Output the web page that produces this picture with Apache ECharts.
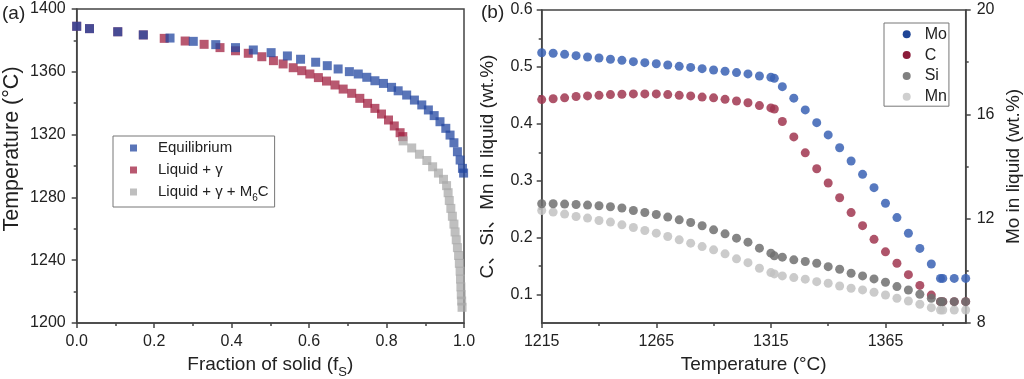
<!DOCTYPE html>
<html><head><meta charset="utf-8">
<script src="https://cdn.jsdelivr.net/npm/echarts@6/dist/echarts.min.js"></script>
<style>html,body{margin:0;padding:0;background:#fff}#c{width:1024px;height:379px}</style>
</head><body><div id="c"></div>
<script>
// ---------- Panel (a): temperature vs fraction of solid ----------
const fsEquilibrium = [0, 0.033, 0.106, 0.172, 0.241, 0.301, 0.359, 0.410, 0.456, 0.502, 0.544, 0.578, 0.617, 0.647, 0.675, 0.704, 0.727, 0.749, 0.770, 0.792, 0.813, 0.830, 0.852, 0.872, 0.891, 0.908, 0.923, 0.938, 0.953, 0.964, 0.974, 0.983, 0.990, 0.996, 0.999];
const tEquilibrium  = [1389, 1387.5, 1385.5, 1383.5, 1381.5, 1379.4, 1377.3, 1375.4, 1373.9, 1372.2, 1370.1, 1368, 1366.1, 1363.9, 1361.8, 1360.1, 1358.6, 1356.5, 1354.3, 1352.6, 1350.1, 1347.9, 1345.2, 1342, 1338.9, 1335.7, 1332.1, 1328.2, 1324, 1319.7, 1314.8, 1309.1, 1303.8, 1298.5, 1295.5];

const fsLiquidGamma = [0, 0.033, 0.106, 0.172, 0.226, 0.28, 0.329, 0.37, 0.41, 0.443, 0.478, 0.508, 0.533, 0.559, 0.581, 0.602, 0.624, 0.645, 0.667, 0.688, 0.71, 0.731, 0.751, 0.770, 0.787, 0.805, 0.820, 0.835, 0.842];
const tLiquidGamma  = [1389, 1387.5, 1385.5, 1383.5, 1381.3, 1379.6, 1377.5, 1375.4, 1373.4, 1371.8, 1369.6, 1367.1, 1365, 1362.6, 1360.7, 1358.6, 1356.3, 1354.1, 1351.6, 1349, 1346.3, 1343.1, 1339.9, 1336.7, 1333.1, 1329.3, 1325.5, 1321.2, 1318.7];

const fsLiquidGammaM6C = [0.843, 0.865, 0.885, 0.904, 0.919, 0.934, 0.947, 0.955, 0.959, 0.962, 0.966, 0.970, 0.974, 0.977, 0.980, 0.983, 0.986, 0.988, 0.990, 0.991, 0.992, 0.993, 0.994, 0.995];
const tLiquidGammaM6C  = [1316, 1311.5, 1307.5, 1303.5, 1299.5, 1295.5, 1291.5, 1287.5, 1283, 1278, 1273, 1268, 1263, 1258, 1253, 1248, 1243, 1238, 1233, 1228, 1223, 1218, 1214, 1210];

const xTicksA = [0, 0.2, 0.4, 0.6, 0.8, 1.0];
const yTicksA = [1200, 1240, 1280, 1320, 1360, 1400];

// ---------- Panel (b): liquid composition vs temperature ----------
const tempB = [1215, 1220, 1225, 1230, 1235, 1240, 1245, 1250, 1255, 1260, 1265, 1270, 1275, 1280, 1285, 1290, 1295, 1300, 1305, 1310, 1315, 1316.5, 1320, 1325, 1330, 1335, 1340, 1345, 1350, 1355, 1360, 1365, 1370, 1375, 1380, 1385, 1389, 1390, 1395, 1400];
const moLiquid = [18.36, 18.34, 18.30, 18.25, 18.20, 18.16, 18.11, 18.07, 18.02, 17.98, 17.94, 17.89, 17.84, 17.80, 17.75, 17.70, 17.65, 17.60, 17.55, 17.47, 17.42, 17.38, 17.06, 16.62, 16.17, 15.68, 15.21, 14.72, 14.21, 13.70, 13.19, 12.59, 12.04, 11.44, 10.86, 10.26, 9.71, 9.71, 9.71, 9.71];
const cLiquid  = [0.4426, 0.444, 0.4456, 0.448, 0.449, 0.450, 0.4514, 0.452, 0.4526, 0.4526, 0.4526, 0.4514, 0.450, 0.449, 0.447, 0.4456, 0.443, 0.440, 0.437, 0.432, 0.428, 0.426, 0.404, 0.377, 0.349, 0.321, 0.296, 0.270, 0.244, 0.221, 0.197, 0.175, 0.155, 0.135, 0.116, 0.099, 0.0875, 0.0875, 0.0875, 0.0875];
const siLiquid = [0.2595, 0.2595, 0.259, 0.2583, 0.2572, 0.256, 0.2542, 0.252, 0.2477, 0.2442, 0.2407, 0.2361, 0.2313, 0.2266, 0.2208, 0.2137, 0.2067, 0.1991, 0.192, 0.1815, 0.1727, 0.168, 0.1657, 0.161, 0.158, 0.155, 0.149, 0.1445, 0.1375, 0.1327, 0.1275, 0.1217, 0.114, 0.108, 0.1005, 0.0935, 0.0875, 0.0875, 0.0875, 0.0875];
const mnLiquid = [0.2477, 0.2449, 0.2414, 0.2372, 0.2343, 0.2301, 0.2273, 0.2225, 0.2178, 0.2125, 0.2079, 0.2019, 0.1961, 0.1903, 0.1843, 0.1785, 0.1715, 0.1627, 0.156, 0.1463, 0.1386, 0.1363, 0.1327, 0.1298, 0.127, 0.1227, 0.1199, 0.1151, 0.111, 0.1081, 0.104, 0.0993, 0.0935, 0.0887, 0.0829, 0.0769, 0.0729, 0.0729, 0.0729, 0.0729];

const xTicksB = [1215, 1265, 1315, 1365];
const xMinorB = [1240, 1290, 1340, 1390];
const yLeftTicksB = [0.1, 0.2, 0.3, 0.4, 0.5, 0.6];
const yLeftMinorB = [0.15, 0.25, 0.35, 0.45, 0.55];
const yRightTicksB = [8, 12, 16, 20];

const zip = (xs, ys) => xs.map((x, i) => [x, ys[i]]);

const FONT = "'Liberation Sans', Arial, 'Noto Sans CJK SC', sans-serif";
const AX = '#444';
const lineStyle = { color: AX, width: 1.5 };
const tickLabel = { color: '#222', fontSize: 16, fontFamily: FONT };
const nameStyle = { color: '#222', fontSize: 19, fontFamily: FONT };
const plain = v => String(v);

const chart = echarts.init(document.getElementById('c'), null, { renderer: 'canvas' });

const option = {
  backgroundColor: '#fff',
  animation: false,
  textStyle: { fontFamily: FONT },
  grid: [
    { left: 76.7, top: 9, width: 387.3, height: 314, show: true, borderColor: AX, borderWidth: 1.5, backgroundColor: 'transparent', outerBoundsMode: 'none' },
    { left: 541.7, top: 10, width: 424, height: 313, show: true, borderColor: AX, borderWidth: 1.5, backgroundColor: 'transparent', outerBoundsMode: 'none' }
  ],
  graphic: [
    { type: 'text', left: 2, top: 4, style: { text: '(a)', fontSize: 19, fontFamily: FONT, fill: '#222' } },
    { type: 'text', left: 481, top: 3, style: { text: '(b)', fontSize: 19, fontFamily: FONT, fill: '#222' } }
  ],
  legend: [
    {
      orient: 'vertical', left: 113, top: 136,
      data: ['Equilibrium', 'Liquid + γ', 'Liquid + γ + M6C'],
      icon: 'rect', itemWidth: 7, itemHeight: 7, itemGap: 6,
      padding: [4, 6, 4, 17],
      borderColor: '#777', borderWidth: 1,
      selectedMode: false,
      formatter: n => n === 'Liquid + γ + M6C' ? '{t|Liquid + γ + M}{s|6}{t|C}' : '{t|' + n + '}',
      textStyle: {
        padding: [0, 0, 0, 16], lineHeight: 16, color: '#222', fontFamily: FONT, fontSize: 15,
        rich: {
          t: { fontSize: 15, fontFamily: FONT, color: '#222', lineHeight: 16 },
          s: { fontSize: 10, fontFamily: FONT, color: '#222', verticalAlign: 'bottom', lineHeight: 10, padding: [0, 0, -3, 0] }
        }
      }
    },
    {
      orient: 'vertical', left: 884, top: 23,
      data: [
        { name: 'Mo', itemStyle: { color: '#1f4596', opacity: 1 } },
        { name: 'C', itemStyle: { color: '#8b1c3a', opacity: 1 } },
        { name: 'Si', itemStyle: { color: '#808080', opacity: 1 } },
        { name: 'Mn', itemStyle: { color: '#cfcfcf', opacity: 1 } }
      ],
      icon: 'circle', itemWidth: 8, itemHeight: 8, itemGap: 4.8,
      padding: [3.3, 2, 1.5, 18.7],
      borderColor: '#777', borderWidth: 1,
      selectedMode: false,
      textStyle: { padding: [0, 0, 0, 9], lineHeight: 16, fontSize: 16, color: '#222', fontFamily: FONT }
    }
  ],
  xAxis: [
    {
      gridIndex: 0, type: 'value', min: 0, max: 1, interval: 0.2,
      name: 'Fraction of solid (f{s|S})', nameLocation: 'middle', nameGap: 32,
      nameTextStyle: Object.assign({}, nameStyle, { rich: { s: { fontSize: 13, fontFamily: FONT, color: '#222', verticalAlign: 'bottom', lineHeight: 13, padding: [0, 0, -5, 0] } } }),
      axisLine: { show: true, lineStyle },
      axisTick: { show: true, length: 5, lineStyle },
      minorTick: { show: true, splitNumber: 2, length: 3, lineStyle },
      axisLabel: Object.assign({}, tickLabel, { margin: 11, formatter: v => v.toFixed(1) }),
      splitLine: { show: false }
    },
    {
      gridIndex: 1, type: 'value', min: 1215, max: 1400,
      name: 'Temperature (°C)', nameLocation: 'middle', nameGap: 32, nameTextStyle: nameStyle,
      axisLine: { show: true, lineStyle },
      axisTick: { show: true, length: 5, lineStyle, customValues: xTicksB },
      axisLabel: Object.assign({}, tickLabel, { margin: 11, customValues: xTicksB, formatter: plain }),
      splitLine: { show: false }
    },
    {
      gridIndex: 1, type: 'value', min: 1215, max: 1400, position: 'bottom',
      axisLine: { show: false },
      axisTick: { show: true, length: 3, lineStyle, customValues: xMinorB },
      axisLabel: { show: false },
      splitLine: { show: false }
    }
  ],
  yAxis: [
    {
      gridIndex: 0, type: 'value', min: 1200, max: 1400, interval: 40,
      name: 'Temperature (°C)', nameLocation: 'middle', nameGap: 54,
      nameTextStyle: Object.assign({}, nameStyle, { fontSize: 21.5, padding: [0, 0, 0, 34] }),
      axisLine: { show: true, lineStyle },
      axisTick: { show: true, length: 5, lineStyle },
      minorTick: { show: true, splitNumber: 2, length: 3, lineStyle },
      axisLabel: Object.assign({}, tickLabel, { margin: 11, formatter: plain }),
      splitLine: { show: false }
    },
    {
      gridIndex: 1, type: 'value', min: 0.05, max: 0.6, position: 'left',
      name: 'C、Si、Mn in liquid (wt.%)', nameLocation: 'middle', nameGap: 44, nameTextStyle: nameStyle,
      axisLine: { show: true, lineStyle },
      axisTick: { show: true, length: 5, lineStyle, customValues: yLeftTicksB },
      axisLabel: Object.assign({}, tickLabel, { margin: 9, customValues: yLeftTicksB, formatter: v => v.toFixed(1) }),
      splitLine: { show: false }
    },
    {
      gridIndex: 1, type: 'value', min: 8, max: 20, interval: 4, position: 'right',
      name: 'Mo in liquid (wt.%)', nameLocation: 'middle', nameGap: 39, nameRotate: 90, nameTextStyle: nameStyle,
      axisLine: { show: true, lineStyle },
      axisTick: { show: true, length: 5, lineStyle },
      minorTick: { show: true, splitNumber: 2, length: 3, lineStyle },
      axisLabel: Object.assign({}, tickLabel, { margin: 11, formatter: plain }),
      splitLine: { show: false }
    },
    {
      gridIndex: 1, type: 'value', min: 0.05, max: 0.6, position: 'left',
      axisLine: { show: false },
      axisTick: { show: true, length: 3, lineStyle, customValues: yLeftMinorB },
      axisLabel: { show: false },
      splitLine: { show: false }
    }
  ],
  series: [
    {
      name: 'Liquid + γ', type: 'scatter', xAxisIndex: 0, yAxisIndex: 0, symbol: 'rect', symbolSize: 9, z: 2,
      itemStyle: { color: '#a02040', opacity: 0.75 }, data: zip(fsLiquidGamma, tLiquidGamma)
    },
    {
      name: 'Liquid + γ + M6C', type: 'scatter', xAxisIndex: 0, yAxisIndex: 0, symbol: 'rect', symbolSize: 9, z: 2,
      itemStyle: { color: '#aaaaaa', opacity: 0.75 }, data: zip(fsLiquidGammaM6C, tLiquidGammaM6C)
    },
    {
      name: 'Equilibrium', type: 'scatter', xAxisIndex: 0, yAxisIndex: 0, symbol: 'rect', symbolSize: 9, z: 3,
      itemStyle: { color: '#2347a0', opacity: 0.75 }, data: zip(fsEquilibrium, tEquilibrium)
    },
    {
      name: 'Mo', type: 'scatter', xAxisIndex: 1, yAxisIndex: 2, symbol: 'circle', symbolSize: 9, z: 3, clip: false,
      itemStyle: { color: '#3a62b4', opacity: 0.85 }, data: zip(tempB, moLiquid)
    },
    {
      name: 'C', type: 'scatter', xAxisIndex: 1, yAxisIndex: 1, symbol: 'circle', symbolSize: 9, z: 2, clip: false,
      itemStyle: { color: '#a03650', opacity: 0.85 }, data: zip(tempB, cLiquid)
    },
    {
      name: 'Si', type: 'scatter', xAxisIndex: 1, yAxisIndex: 1, symbol: 'circle', symbolSize: 9, z: 4, clip: false,
      itemStyle: { color: '#707070', opacity: 0.85 }, data: zip(tempB, siLiquid)
    },
    {
      name: 'Mn', type: 'scatter', xAxisIndex: 1, yAxisIndex: 1, symbol: 'circle', symbolSize: 9, z: 2, clip: false,
      itemStyle: { color: '#c2c2c2', opacity: 0.85 }, data: zip(tempB, mnLiquid)
    }
  ]
};
chart.setOption(option);
</script>
</body></html>
